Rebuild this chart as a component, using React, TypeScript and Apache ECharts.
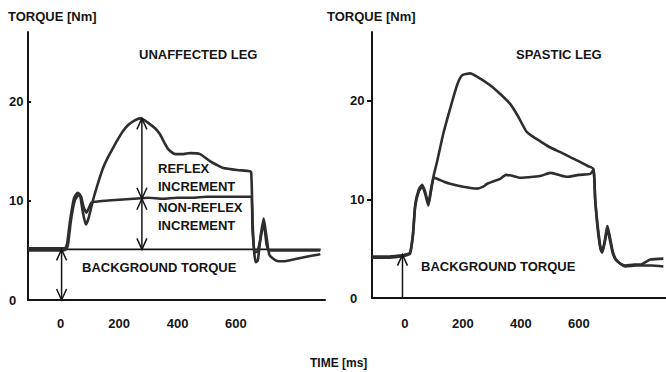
import React, { useEffect, useRef } from 'react';
import * as echarts from 'echarts';

// ---------- data ----------
const xTickValues = [0, 200, 400, 600];
const yTickValues = [0, 10, 20];

// Unaffected leg: trace with reflex (large peak)
const unaffectedReflex: [number, number][] = [
  [-112, 5.2], [-60, 5.2], [0, 5.2], [15, 5.2], [22, 5.7], [32, 8.0], [45, 10.2], [58, 10.8], [66, 10.6],
  [75, 9.0], [86, 7.6], [95, 8.2], [110, 10.0], [128, 11.8], [145, 13.3], [162, 14.4], [179, 15.3],
  [196, 16.2], [213, 17.0], [230, 17.6], [248, 18.0], [271, 18.3], [288, 18.1], [306, 17.7], [323, 17.3],
  [340, 16.7], [354, 15.9], [368, 15.2], [392, 14.7], [420, 14.7], [443, 14.8], [477, 14.7], [511, 14.0],
  [535, 13.6], [557, 13.3], [604, 13.1], [642, 13.0], [652, 12.9], [657, 8.0], [662, 5.0], [668, 3.8],
  [675, 4.0], [685, 6.5], [695, 8.2], [704, 6.5], [714, 4.6], [726, 4.2], [745, 3.9], [762, 3.9],
  [800, 4.1], [850, 4.4], [889, 4.6],
];
// Unaffected leg: trace without reflex
const unaffectedNonReflex: [number, number][] = [
  [-112, 5.0], [-60, 5.0], [0, 5.0], [18, 5.1], [25, 5.6], [35, 8.0], [48, 10.0], [62, 10.6], [70, 10.4],
  [78, 9.4], [88, 8.8], [97, 9.3], [105, 9.8], [120, 9.9], [150, 10.0], [200, 10.1], [250, 10.2],
  [300, 10.3], [350, 10.2], [400, 10.3], [450, 10.3], [500, 10.4], [550, 10.4], [600, 10.4], [650, 10.4],
  [657, 7.0], [664, 4.8], [674, 4.9], [685, 6.3], [695, 7.8], [705, 5.6], [714, 5.0], [740, 5.0],
  [800, 5.0], [889, 5.0],
];
// Spastic leg: trace with reflex (large peak)
const spasticReflex: [number, number][] = [
  [-113, 4.2], [-60, 4.2], [-20, 4.3], [0, 4.4], [18, 4.6], [28, 6.5], [36, 9.5], [48, 11.0], [60, 11.5],
  [70, 10.8], [81, 9.6], [90, 11.0], [100, 12.5], [111, 13.8], [132, 16.6], [156, 19.2], [180, 21.6],
  [197, 22.6], [225, 22.8], [253, 22.4], [294, 21.6], [329, 20.7], [363, 19.7], [391, 18.4], [419, 16.9],
  [440, 16.4], [467, 15.9], [500, 15.3], [536, 14.8], [570, 14.3], [605, 13.8], [630, 13.4], [650, 13.1],
  [656, 10.0], [664, 7.5], [674, 5.2], [680, 4.7], [690, 6.0], [698, 7.3], [706, 6.3], [716, 4.8],
  [726, 4.0], [742, 3.5], [760, 3.2], [800, 3.3], [850, 3.3], [891, 3.2],
];
// Spastic leg: trace without reflex
const spasticNonReflex: [number, number][] = [
  [-113, 4.1], [-60, 4.1], [-20, 4.2], [0, 4.3], [18, 4.5], [28, 6.3], [36, 9.3], [48, 10.8], [60, 11.3],
  [70, 10.6], [81, 9.4], [90, 10.8], [100, 12.2], [111, 12.1], [135, 11.8], [156, 11.6], [201, 11.3],
  [249, 11.1], [270, 11.3], [284, 11.6], [310, 11.9], [329, 12.1], [349, 12.5], [370, 12.4], [398, 12.2],
  [443, 12.3], [470, 12.4], [501, 12.7], [530, 12.5], [560, 12.3], [600, 12.5], [639, 12.6], [650, 13.0],
  [656, 10.0], [664, 7.2], [674, 5.0], [680, 4.6], [690, 5.8], [698, 7.0], [706, 6.0], [716, 4.6],
  [726, 3.9], [742, 3.5], [760, 3.3], [790, 3.4], [811, 3.4], [846, 3.9], [891, 4.0],
];

const backgroundLevel = 5.1;
const backgroundLine: [number, number][] = [[-112, backgroundLevel], [890, backgroundLevel]];

// arrows: [time, fromValue, toValue, headAtFrom, headAtTo]
const unaffectedArrows: number[][] = [
  [278, 18.3, 10.2, 1, 1],
  [278, 10.2, backgroundLevel, 1, 1],
  [3, backgroundLevel, 0, 1, 1],
];
const spasticArrows: number[][] = [[-8, 0, 4.4, 0, 1]];

// ---------- chart ----------
const FONT = '"Liberation Sans", Arial, sans-serif';
const INK = '#151515';
const TRACE = '#2e2e2e';

function arrowSeries(data: number[][], idx: number) {
  return {
    type: 'custom',
    xAxisIndex: idx,
    yAxisIndex: idx,
    silent: true,
    z: 5,
    data,
    encode: { x: 0, y: [1, 2] },
    renderItem: (_p: any, api: any) => {
      const t = api.value(0);
      const p1 = api.coord([t, api.value(1)]);
      const p2 = api.coord([t, api.value(2)]);
      const st = { stroke: INK, lineWidth: 1.5, fill: 'none' };
      const children: any[] = [
        { type: 'line', shape: { x1: p1[0], y1: p1[1], x2: p2[0], y2: p2[1] }, style: st },
      ];
      const head = (p: number[], dir: number) => ({
        type: 'polyline',
        shape: { points: [[p[0] - 5, p[1] + dir * 11], [p[0], p[1]], [p[0] + 5, p[1] + dir * 11]] },
        style: st,
      });
      if (api.value(3)) children.push(head(p1, p1[1] < p2[1] ? 1 : -1));
      if (api.value(4)) children.push(head(p2, p2[1] < p1[1] ? 1 : -1));
      return { type: 'group', children };
    },
  };
}

function traceSeries(data: [number, number][], idx: number, width = 2.6) {
  return {
    type: 'line',
    xAxisIndex: idx,
    yAxisIndex: idx,
    data,
    symbol: 'none',
    silent: true,
    smooth: 0.2,
    lineStyle: { color: TRACE, width },
  };
}

function xAxis(idx: number, min: number, max: number, margin: number) {
  return {
    type: 'value',
    gridIndex: idx,
    min,
    max,
    splitLine: { show: false },
    axisLine: { show: true, onZero: false, lineStyle: { color: INK, width: 2 } },
    axisTick: { show: false },
    axisLabel: {
      customValues: xTickValues,
      margin,
      color: INK,
      fontFamily: FONT,
      fontSize: 13,
      fontWeight: 'bold',
    },
  };
}

function yAxis(idx: number, margin: number, inside: boolean) {
  return {
    type: 'value',
    gridIndex: idx,
    min: 0,
    max: 27,
    splitLine: { show: false },
    axisLine: { show: true, onZero: false, lineStyle: { color: INK, width: 2 } },
    axisTick: {
      show: true,
      inside,
      length: inside ? 3 : 5,
      customValues: [10, 20],
      lineStyle: { color: INK, width: 2 },
    },
    axisLabel: {
      customValues: yTickValues,
      align: 'left',
      margin,
      color: INK,
      fontFamily: FONT,
      fontSize: 13,
      fontWeight: 'bold',
    },
  };
}

function txt(text: string, x: number, y: number, size = 13) {
  return {
    type: 'text',
    x,
    y,
    silent: true,
    style: { text, fill: INK, font: `bold ${size}px ${FONT}`, verticalAlign: 'middle', align: 'left' },
  };
}

export default function App() {
  const ref = useRef<HTMLDivElement>(null);
  useEffect(() => {
    if (!ref.current) return;
    const chart = echarts.init(ref.current, undefined, { renderer: 'svg' });
    chart.setOption({
      animation: false,
      backgroundColor: '#ffffff',
      grid: [
        { left: 28, top: 32, width: 297, height: 268 },
        { left: 372, top: 32, width: 294, height: 266 },
      ],
      xAxis: [xAxis(0, -112, 905, 17), xAxis(1, -113, 900, 19)],
      yAxis: [yAxis(0, 19, true), yAxis(1, 22, false)],
      series: [
        {
          type: 'line',
          xAxisIndex: 0,
          yAxisIndex: 0,
          data: backgroundLine,
          symbol: 'none',
          silent: true,
          lineStyle: { color: INK, width: 1.6 },
        },
        traceSeries(unaffectedNonReflex, 0),
        traceSeries(unaffectedReflex, 0),
        traceSeries(spasticNonReflex, 1),
        traceSeries(spasticReflex, 1),
        arrowSeries(unaffectedArrows, 0),
        arrowSeries(spasticArrows, 1),
      ],
      graphic: [
        txt('TORQUE [Nm]', 8, 16),
        txt('TORQUE [Nm]', 327, 16),
        txt('UNAFFECTED LEG', 139, 54),
        txt('SPASTIC LEG', 516, 54),
        txt('REFLEX', 158, 168),
        txt('INCREMENT', 158, 186),
        txt('NON-REFLEX', 158, 207),
        txt('INCREMENT', 158, 225),
        txt('BACKGROUND TORQUE', 82, 267),
        txt('BACKGROUND TORQUE', 421, 266),
        txt('TIME [ms]', 310, 363, 12),
      ],
    });
    return () => chart.dispose();
  }, []);
  return (
    <div
      ref={ref}
      style={{ position: 'fixed', left: 0, top: 0, width: 666, height: 372, background: '#fff' }}
    />
  );
}
